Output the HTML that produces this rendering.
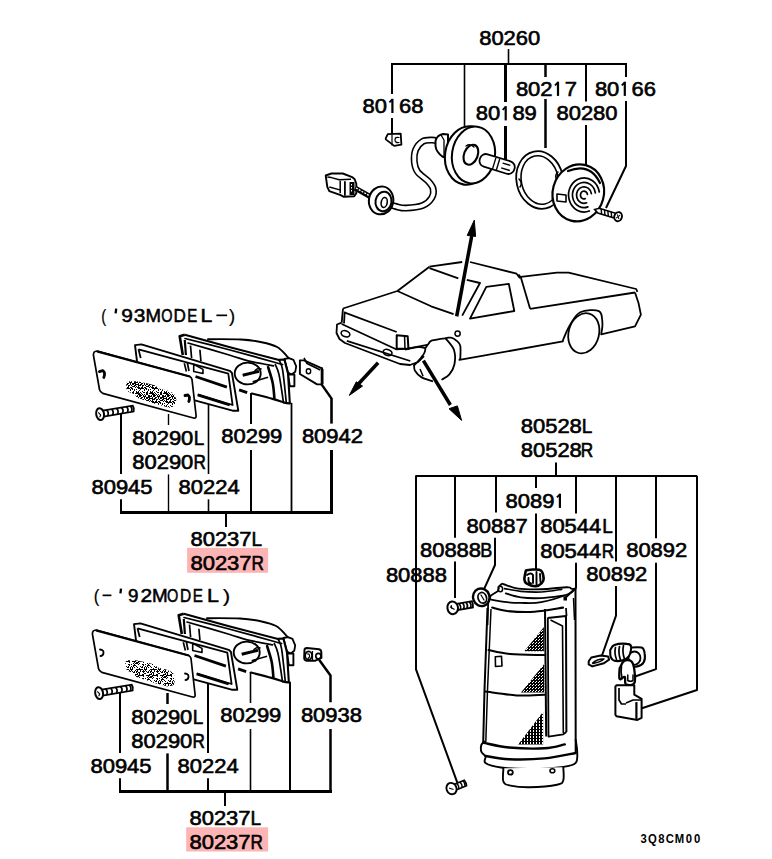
<!DOCTYPE html>
<html><head><meta charset="utf-8"><style>html,body{margin:0;padding:0;background:#fff;width:772px;height:859px;overflow:hidden}svg{display:block}</style></head>
<body>
<svg width="772" height="859" viewBox="0 0 772 859">
<defs>
<pattern id="tex" width="14" height="14" patternUnits="userSpaceOnUse"><rect width="14" height="14" fill="#fff"/><g fill="#000"><rect x="0" y="0" width="1" height="1"/><rect x="3" y="0" width="1" height="1"/><rect x="4" y="0" width="1" height="1"/><rect x="6" y="0" width="1" height="1"/><rect x="7" y="0" width="1" height="1"/><rect x="10" y="0" width="1" height="1"/><rect x="11" y="0" width="1" height="1"/><rect x="12" y="0" width="1" height="1"/><rect x="1" y="1" width="1" height="1"/><rect x="6" y="1" width="1" height="1"/><rect x="7" y="1" width="1" height="1"/><rect x="9" y="1" width="1" height="1"/><rect x="10" y="1" width="1" height="1"/><rect x="11" y="1" width="1" height="1"/><rect x="12" y="1" width="1" height="1"/><rect x="13" y="1" width="1" height="1"/><rect x="0" y="2" width="1" height="1"/><rect x="2" y="2" width="1" height="1"/><rect x="4" y="2" width="1" height="1"/><rect x="6" y="2" width="1" height="1"/><rect x="7" y="2" width="1" height="1"/><rect x="12" y="2" width="1" height="1"/><rect x="13" y="2" width="1" height="1"/><rect x="0" y="3" width="1" height="1"/><rect x="1" y="3" width="1" height="1"/><rect x="3" y="3" width="1" height="1"/><rect x="5" y="3" width="1" height="1"/><rect x="8" y="3" width="1" height="1"/><rect x="9" y="3" width="1" height="1"/><rect x="11" y="3" width="1" height="1"/><rect x="13" y="3" width="1" height="1"/><rect x="0" y="4" width="1" height="1"/><rect x="3" y="4" width="1" height="1"/><rect x="4" y="4" width="1" height="1"/><rect x="5" y="4" width="1" height="1"/><rect x="8" y="4" width="1" height="1"/><rect x="9" y="4" width="1" height="1"/><rect x="10" y="4" width="1" height="1"/><rect x="11" y="4" width="1" height="1"/><rect x="13" y="4" width="1" height="1"/><rect x="1" y="5" width="1" height="1"/><rect x="2" y="5" width="1" height="1"/><rect x="4" y="5" width="1" height="1"/><rect x="6" y="5" width="1" height="1"/><rect x="7" y="5" width="1" height="1"/><rect x="8" y="5" width="1" height="1"/><rect x="9" y="5" width="1" height="1"/><rect x="12" y="5" width="1" height="1"/><rect x="0" y="6" width="1" height="1"/><rect x="1" y="6" width="1" height="1"/><rect x="4" y="6" width="1" height="1"/><rect x="6" y="6" width="1" height="1"/><rect x="7" y="6" width="1" height="1"/><rect x="9" y="6" width="1" height="1"/><rect x="10" y="6" width="1" height="1"/><rect x="11" y="6" width="1" height="1"/><rect x="12" y="6" width="1" height="1"/><rect x="0" y="7" width="1" height="1"/><rect x="2" y="7" width="1" height="1"/><rect x="3" y="7" width="1" height="1"/><rect x="5" y="7" width="1" height="1"/><rect x="8" y="7" width="1" height="1"/><rect x="9" y="7" width="1" height="1"/><rect x="12" y="7" width="1" height="1"/><rect x="13" y="7" width="1" height="1"/><rect x="2" y="8" width="1" height="1"/><rect x="6" y="8" width="1" height="1"/><rect x="7" y="8" width="1" height="1"/><rect x="8" y="8" width="1" height="1"/><rect x="10" y="8" width="1" height="1"/><rect x="12" y="8" width="1" height="1"/><rect x="1" y="9" width="1" height="1"/><rect x="2" y="9" width="1" height="1"/><rect x="4" y="9" width="1" height="1"/><rect x="5" y="9" width="1" height="1"/><rect x="9" y="9" width="1" height="1"/><rect x="11" y="9" width="1" height="1"/><rect x="12" y="9" width="1" height="1"/><rect x="13" y="9" width="1" height="1"/><rect x="0" y="10" width="1" height="1"/><rect x="1" y="10" width="1" height="1"/><rect x="2" y="10" width="1" height="1"/><rect x="3" y="10" width="1" height="1"/><rect x="5" y="10" width="1" height="1"/><rect x="6" y="10" width="1" height="1"/><rect x="12" y="10" width="1" height="1"/><rect x="13" y="10" width="1" height="1"/><rect x="0" y="11" width="1" height="1"/><rect x="4" y="11" width="1" height="1"/><rect x="6" y="11" width="1" height="1"/><rect x="8" y="11" width="1" height="1"/><rect x="10" y="11" width="1" height="1"/><rect x="4" y="12" width="1" height="1"/><rect x="8" y="12" width="1" height="1"/><rect x="13" y="12" width="1" height="1"/><rect x="2" y="13" width="1" height="1"/><rect x="7" y="13" width="1" height="1"/><rect x="10" y="13" width="1" height="1"/><rect x="12" y="13" width="1" height="1"/></g></pattern>
<pattern id="tex2" width="14" height="14" patternUnits="userSpaceOnUse"><rect width="14" height="14" fill="#fff"/><g fill="#000"><rect x="3" y="0" width="1" height="1"/><rect x="7" y="0" width="1" height="1"/><rect x="8" y="0" width="1" height="1"/><rect x="10" y="0" width="1" height="1"/><rect x="12" y="0" width="1" height="1"/><rect x="13" y="0" width="1" height="1"/><rect x="4" y="1" width="1" height="1"/><rect x="5" y="1" width="1" height="1"/><rect x="11" y="1" width="1" height="1"/><rect x="13" y="1" width="1" height="1"/><rect x="2" y="2" width="1" height="1"/><rect x="3" y="2" width="1" height="1"/><rect x="9" y="2" width="1" height="1"/><rect x="10" y="2" width="1" height="1"/><rect x="11" y="2" width="1" height="1"/><rect x="13" y="2" width="1" height="1"/><rect x="0" y="3" width="1" height="1"/><rect x="1" y="3" width="1" height="1"/><rect x="2" y="3" width="1" height="1"/><rect x="3" y="3" width="1" height="1"/><rect x="6" y="3" width="1" height="1"/><rect x="7" y="3" width="1" height="1"/><rect x="8" y="3" width="1" height="1"/><rect x="9" y="3" width="1" height="1"/><rect x="12" y="3" width="1" height="1"/><rect x="13" y="3" width="1" height="1"/><rect x="3" y="4" width="1" height="1"/><rect x="8" y="4" width="1" height="1"/><rect x="10" y="4" width="1" height="1"/><rect x="11" y="4" width="1" height="1"/><rect x="12" y="4" width="1" height="1"/><rect x="7" y="5" width="1" height="1"/><rect x="9" y="5" width="1" height="1"/><rect x="10" y="5" width="1" height="1"/><rect x="11" y="5" width="1" height="1"/><rect x="13" y="5" width="1" height="1"/><rect x="2" y="6" width="1" height="1"/><rect x="3" y="6" width="1" height="1"/><rect x="5" y="6" width="1" height="1"/><rect x="8" y="6" width="1" height="1"/><rect x="12" y="6" width="1" height="1"/><rect x="3" y="7" width="1" height="1"/><rect x="7" y="7" width="1" height="1"/><rect x="8" y="7" width="1" height="1"/><rect x="9" y="7" width="1" height="1"/><rect x="0" y="8" width="1" height="1"/><rect x="2" y="8" width="1" height="1"/><rect x="5" y="8" width="1" height="1"/><rect x="7" y="8" width="1" height="1"/><rect x="10" y="8" width="1" height="1"/><rect x="1" y="9" width="1" height="1"/><rect x="2" y="9" width="1" height="1"/><rect x="4" y="9" width="1" height="1"/><rect x="6" y="9" width="1" height="1"/><rect x="8" y="9" width="1" height="1"/><rect x="11" y="9" width="1" height="1"/><rect x="4" y="10" width="1" height="1"/><rect x="6" y="10" width="1" height="1"/><rect x="13" y="10" width="1" height="1"/><rect x="0" y="11" width="1" height="1"/><rect x="1" y="11" width="1" height="1"/><rect x="2" y="11" width="1" height="1"/><rect x="4" y="11" width="1" height="1"/><rect x="5" y="11" width="1" height="1"/><rect x="6" y="11" width="1" height="1"/><rect x="10" y="11" width="1" height="1"/><rect x="11" y="11" width="1" height="1"/><rect x="12" y="11" width="1" height="1"/><rect x="13" y="11" width="1" height="1"/><rect x="0" y="12" width="1" height="1"/><rect x="3" y="12" width="1" height="1"/><rect x="5" y="12" width="1" height="1"/><rect x="9" y="12" width="1" height="1"/><rect x="11" y="12" width="1" height="1"/><rect x="0" y="13" width="1" height="1"/><rect x="2" y="13" width="1" height="1"/><rect x="3" y="13" width="1" height="1"/><rect x="4" y="13" width="1" height="1"/><rect x="6" y="13" width="1" height="1"/><rect x="8" y="13" width="1" height="1"/><rect x="10" y="13" width="1" height="1"/><rect x="11" y="13" width="1" height="1"/></g></pattern>
<pattern id="hat" width="3" height="3" patternUnits="userSpaceOnUse"><rect width="3" height="3" fill="#000"/><rect x="1" y="1" width="1" height="1" fill="#fff"/><rect x="2" y="0" width="1" height="1" fill="#fff"/></pattern><pattern id="hat2" width="3" height="3" patternUnits="userSpaceOnUse"><rect width="3" height="3" fill="#fff"/><rect width="2" height="3" fill="#000"/><rect x="0" y="0" width="3" height="1" fill="#000"/></pattern>
</defs>
<rect x="187.1" y="547.9" width="81" height="24.9" fill="#fdb4b4"/>
<rect x="186.2" y="827.3" width="81.9" height="24.2" fill="#fdb4b4"/>
<g fill="none" stroke="#000" stroke-linecap="butt" stroke-linejoin="round">
<path d="M391,64 L627,64" stroke-width="2"/>
<path d="M508.5,49 L508.5,64" stroke-width="1.6"/>
<path d="M392,64 L392,94" stroke-width="2"/>
<path d="M392,118 L392,135" stroke-width="2"/>
<path d="M464.5,64 L464.5,128" stroke-width="1.6"/>
<path d="M505.5,64 L505.5,102" stroke-width="3"/>
<path d="M505.5,126 L505.5,160" stroke-width="3"/>
<path d="M545.5,64 L545.5,77" stroke-width="2.5"/>
<path d="M545.5,99 L545.5,148" stroke-width="2.5"/>
<path d="M586,64 L586,101.5" stroke-width="2"/>
<path d="M586,125 L586,165" stroke-width="2"/>
<path d="M626,63 L626,77" stroke-width="2"/>
<path d="M626,101 L626,166 L606,208" stroke-width="2"/>
<path d="M121,413 L121,474" stroke-width="2"/>
<path d="M121,499.3 L121,512.5" stroke-width="2"/>
<path d="M168.5,414 L168.5,425" stroke-width="1.4"/>
<path d="M168.5,474.4 L168.5,512.5" stroke-width="1.4"/>
<path d="M208.5,400 L208.5,474" stroke-width="1.6"/>
<path d="M208.5,499.3 L208.5,512.5" stroke-width="1.6"/>
<path d="M251,385 L251,424" stroke-width="2"/>
<path d="M251,450 L251,512.5" stroke-width="2"/>
<path d="M291.5,402.8 L291.5,512.5" stroke-width="1.8"/>
<path d="M331.5,450 L331.5,512.5" stroke-width="3"/>
<path d="M120,512.5 L333,512.5" stroke-width="3"/>
<path d="M226,512.5 L226,527" stroke-width="2"/>
<path d="M120,692 L120,753" stroke-width="2"/>
<path d="M120,778.3 L120,791.5" stroke-width="2"/>
<path d="M167.5,693 L167.5,704" stroke-width="2.5"/>
<path d="M167.5,753.4 L167.5,791.5" stroke-width="2.5"/>
<path d="M208,679 L208,753" stroke-width="2"/>
<path d="M208,778.3 L208,791.5" stroke-width="2"/>
<path d="M250.5,664 L250.5,703" stroke-width="1.6"/>
<path d="M250.5,729 L250.5,791.5" stroke-width="1.6"/>
<path d="M290,681.8 L290,791.5" stroke-width="2"/>
<path d="M330.5,729 L330.5,791.5" stroke-width="2.5"/>
<path d="M119,791.5 L332,791.5" stroke-width="3"/>
<path d="M225,791.5 L225,806" stroke-width="2"/>
<path d="M321.3,384 L331.5,398.5" stroke-width="2.3"/>
<path d="M331.5,398 L331.5,423.6" stroke-width="2.6"/>
<path d="M319.1,659.8 L330.5,675.6 L330.5,702.2" stroke-width="2.5"/>
<path d="M556,462.5 L556,476" stroke-width="2"/>
<path d="M415.3,476 L697.3,476" stroke-width="2"/>
<path d="M416,476 L416,669.4 L457.3,782.6" stroke-width="2"/>
<path d="M455,476 L455,537.8" stroke-width="2"/>
<path d="M455,561.6 L455,598" stroke-width="2"/>
<path d="M496,476 L496,512.6" stroke-width="2"/>
<path d="M495,537.8 L495,565 L483.5,590.3" stroke-width="2"/>
<path d="M536,476 L536,488" stroke-width="2"/>
<path d="M536,513.6 L536,572" stroke-width="2"/>
<path d="M576,476 L576,513.6" stroke-width="2"/>
<path d="M576,562.8 L576,587.8 L564.3,598.7" stroke-width="2"/>
<path d="M616,476 L616,561.6" stroke-width="2"/>
<path d="M616,586 L616,615.7 L602,655.5" stroke-width="2"/>
<path d="M656,476 L656,538.2" stroke-width="2"/>
<path d="M656,562.8 L656,669.1 L635.1,676.5" stroke-width="2"/>
<path d="M697,476 L697,690 L641.9,708.3" stroke-width="2"/>
</g>
<polygon points="325.7,175.5 331.4,173.5 342.8,173.5 352.1,177.1 354.7,179.2 356.3,183.8 356.3,193.2 354.2,196.3 343.8,196.8 340.7,195.2 329.3,191.1 327.3,186.9" fill="#fff" stroke="#000" stroke-width="1.9" stroke-linejoin="round" />
<polyline points="327.3,177.0 331.4,177.6 339.2,179.7 351.0,179.2" fill="none" stroke="#000" stroke-width="1.5" stroke-linejoin="round" />
<polyline points="340.2,180.7 340.2,193.2" fill="none" stroke="#000" stroke-width="1.5" stroke-linejoin="round" />
<polyline points="344.9,181.2 344.9,195.8" fill="none" stroke="#000" stroke-width="1.8" stroke-linejoin="round" />
<polyline points="329.3,187.0 340.7,190.1" fill="none" stroke="#000" stroke-width="1.5" stroke-linejoin="round" />
<polyline points="355.0,188.0 370.0,196.5" fill="none" stroke="#000" stroke-width="5" stroke-linejoin="round" />
<path d="M356,188 L369,195.5" stroke="#fff" stroke-width="1.3" stroke-dasharray="2,1.2"/>
<rect x="349.5" y="182" width="5" height="13" fill="#000"/>
<path d="M351.5,184 L351.5,193" stroke="#fff" stroke-width="1" stroke-dasharray="1.5,1.5"/>
<path d="M386.0,203.0 C387.7,203.6 392.7,205.7 396.0,206.5 C399.3,207.3 401.4,208.3 405.9,208.1 C410.3,207.9 418.4,207.2 422.7,205.5 C427.0,203.8 430.1,200.5 431.8,197.7 C433.5,194.9 433.8,191.5 433.1,188.7 C432.5,185.9 430.5,183.7 427.9,180.9 C425.3,178.1 419.9,175.0 417.6,171.8 C415.3,168.6 414.6,165.2 414.3,161.5 C414.0,157.8 414.2,153.2 415.6,149.8 C417.0,146.5 420.0,143.0 422.7,141.4 C425.4,139.8 429.2,140.2 431.8,140.1 C434.4,140.0 437.0,140.8 438.0,141.0" fill="none" stroke="#000" stroke-width="7" stroke-linejoin="round" stroke-linecap="round" />
<path d="M386.0,203.0 C387.7,203.6 392.7,205.7 396.0,206.5 C399.3,207.3 401.4,208.3 405.9,208.1 C410.3,207.9 418.4,207.2 422.7,205.5 C427.0,203.8 430.1,200.5 431.8,197.7 C433.5,194.9 433.8,191.5 433.1,188.7 C432.5,185.9 430.5,183.7 427.9,180.9 C425.3,178.1 419.9,175.0 417.6,171.8 C415.3,168.6 414.6,165.2 414.3,161.5 C414.0,157.8 414.2,153.2 415.6,149.8 C417.0,146.5 420.0,143.0 422.7,141.4 C425.4,139.8 429.2,140.2 431.8,140.1 C434.4,140.0 437.0,140.8 438.0,141.0" fill="none" stroke="#fff" stroke-width="3.8" stroke-linecap="round"/>
<ellipse cx="0" cy="0" rx="12.2" ry="14" transform="translate(381.1,200.4) rotate(10)" fill="#fff" stroke="#000" stroke-width="2" />
<ellipse cx="0" cy="0" rx="8" ry="9.8" transform="translate(383.5,201.5) rotate(10)" fill="#fff" stroke="#000" stroke-width="2" />
<ellipse cx="0" cy="0" rx="3" ry="5" transform="translate(384.2,202.5) rotate(10)" fill="#fff" stroke="#000" stroke-width="1.6" />
<polygon points="385.8,138.1 387.8,134.2 400.7,133.6 401.4,144.6 394.2,145.9 385.8,139.4" fill="#fff" stroke="#000" stroke-width="1.8" stroke-linejoin="round" />
<polyline points="392.0,134.5 392.0,145.5" fill="none" stroke="#000" stroke-width="1.2" stroke-linejoin="round" />
<path d="M399,137.5 Q395,136.5 395,140 Q395,143 399,142.5" fill="none" stroke="#000" stroke-width="1.2" stroke-linejoin="round" stroke-linecap="round" />
<path d="M435.5,141 Q437,135 443,134 L448,134.5 L448,157 L443,157 Q436,152 435.5,146 Z" fill="#fff" stroke="#000" stroke-width="2" stroke-linejoin="round" stroke-linecap="round" />
<polyline points="441.0,135.0 444.0,140.0 444.0,156.0" fill="none" stroke="#000" stroke-width="1.3" stroke-linejoin="round" />
<ellipse cx="0" cy="0" rx="23" ry="29.4" transform="translate(468,155.5) rotate(8)" fill="#fff" stroke="#000" stroke-width="2.1" />
<ellipse cx="0" cy="0" rx="21.5" ry="28.5" transform="translate(473.5,155) rotate(8)" fill="#fff" stroke="#000" stroke-width="2" />
<ellipse cx="0" cy="0" rx="6.8" ry="10.4" transform="translate(470.9,154.7) rotate(22)" fill="#fff" stroke="#000" stroke-width="2.1" />
<path d="M466,146 Q470,143 474,147" fill="none" stroke="#000" stroke-width="1.3" stroke-linejoin="round" stroke-linecap="round" />
<g transform="translate(497,164.5) rotate(17)"><rect x="-18" y="-7" width="36" height="13" rx="6" fill="#fff" stroke="#000" stroke-width="1.8"/><path d="M-3,-6 L-3,6 M1,-6 L1,6 M5,-3 L13,-3 M5,2 L14,2" stroke="#000" stroke-width="1.4" fill="none"/></g>
<ellipse cx="0" cy="0" rx="23.3" ry="29.1" transform="translate(539.8,180) rotate(-12)" fill="#fff" stroke="#000" stroke-width="1.8" />
<ellipse cx="0" cy="0" rx="18.5" ry="24.5" transform="translate(539.8,180) rotate(-12)" fill="#fff" stroke="#000" stroke-width="1.6" />
<path d="M519,179 Q523,183 520,187" fill="none" stroke="#000" stroke-width="1.5" stroke-linejoin="round" stroke-linecap="round" />
<path d="M558,172 Q554,176 557,180" fill="none" stroke="#000" stroke-width="1.5" stroke-linejoin="round" stroke-linecap="round" />
<ellipse cx="0" cy="0" rx="25.6" ry="28.7" transform="translate(578.3,192.9) rotate(15)" fill="#fff" stroke="#000" stroke-width="2.2" />
<path d="M568,171 Q590,162 600,183" fill="none" stroke="#000" stroke-width="2.2" stroke-linejoin="round" stroke-linecap="round" />
<path d="M585.2,198.6 A3.5,3.8500000000000005 0 1 1 587.4,194.3" fill="none" stroke="#000" stroke-width="1.7" stroke-linejoin="round" stroke-linecap="round" />
<path d="M586.6,202.8 A7.5,8.25 0 1 1 591.4,193.6" fill="none" stroke="#000" stroke-width="1.7" stroke-linejoin="round" stroke-linecap="round" />
<path d="M587.9,206.9 A11.5,12.65 0 1 1 595.3,192.8" fill="none" stroke="#000" stroke-width="1.7" stroke-linejoin="round" stroke-linecap="round" />
<path d="M589.3,211.0 A15.5,17.05 0 1 1 599.3,192.0" fill="none" stroke="#000" stroke-width="1.7" stroke-linejoin="round" stroke-linecap="round" />
<polygon points="557.0,194.0 566.0,195.0 566.0,202.0 557.0,201.0" fill="#fff" stroke="#000" stroke-width="1.6" stroke-linejoin="round" />
<g transform="translate(594.7,209.5) rotate(17)"><path d="M0,0 L4,-2.5 L21,-2.5 L21,2.5 L4,2.5 Z" fill="#fff" stroke="#000" stroke-width="1.7"/><path d="M6,-2.5 L8,2.5 M9.5,-2.5 L11.5,2.5 M13,-2.5 L15,2.5 M16.5,-2.5 L18.5,2.5" stroke="#000" stroke-width="1.4"/><ellipse cx="24.5" cy="0" rx="3.8" ry="4.6" fill="#fff" stroke="#000" stroke-width="1.9"/><path d="M23,-2 L26,2 M26,-2 L23,2" stroke="#000" stroke-width="1"/></g>
<polyline points="429.5,266.7 462.2,262.0" fill="none" stroke="#000" stroke-width="1.8" stroke-linejoin="round" />
<polyline points="470.0,262.0 516.6,273.7 520.0,278.3" fill="none" stroke="#000" stroke-width="1.8" stroke-linejoin="round" />
<polyline points="343.0,308.5 397.4,291.0 429.5,266.7" fill="none" stroke="#000" stroke-width="1.8" stroke-linejoin="round" />
<polyline points="397.4,291.0 431.1,306.3 453.6,314.1" fill="none" stroke="#000" stroke-width="1.8" stroke-linejoin="round" />
<polyline points="429.5,268.2 458.3,278.3" fill="none" stroke="#000" stroke-width="1.8" stroke-linejoin="round" />
<polyline points="466.8,279.9 480.0,283.0 462.2,315.6" fill="none" stroke="#000" stroke-width="1.8" stroke-linejoin="round" />
<polygon points="486.3,286.9 508.8,283.8 514.3,311.0 470.0,318.7" fill="none" stroke="#000" stroke-width="1.8" stroke-linejoin="round" />
<ellipse cx="0" cy="0" rx="2.6" ry="2.6" transform="translate(457.6,333.6) rotate(0)" fill="none" stroke="#000" stroke-width="1.5" />
<polyline points="343.0,308.5 341.7,322.7" fill="none" stroke="#000" stroke-width="1.8" stroke-linejoin="round" />
<polyline points="344.7,311.8 344.0,323.5" fill="none" stroke="#000" stroke-width="1.8" stroke-linejoin="round" />
<polyline points="344.2,312.4 396.7,332.0" fill="none" stroke="#000" stroke-width="1.8" stroke-linejoin="round" />
<polygon points="396.7,335.2 407.7,336.2 408.4,348.7 396.7,348.7" fill="#fff" stroke="#000" stroke-width="2" stroke-linejoin="round" />
<polyline points="404.5,335.2 405.0,348.7" fill="none" stroke="#000" stroke-width="1.5" stroke-linejoin="round" />
<polyline points="341.7,322.7 337.0,324.5 336.5,333.0 339.5,339.0 345.0,343.0 400.0,364.0 410.0,365.0 418.0,362.0 424.0,356.0" fill="none" stroke="#000" stroke-width="1.8" stroke-linejoin="round" />
<polyline points="341.7,324.0 396.1,349.3 407.7,348.7 420.7,346.1 427.2,344.8" fill="none" stroke="#000" stroke-width="1.8" stroke-linejoin="round" />
<polyline points="346.8,340.9 410.3,361.0" fill="none" stroke="#000" stroke-width="1.8" stroke-linejoin="round" />
<ellipse cx="0" cy="0" rx="4.5" ry="3" transform="translate(345.5,333.8) rotate(20)" fill="none" stroke="#000" stroke-width="1.6" />
<ellipse cx="0" cy="0" rx="4.5" ry="3" transform="translate(387.6,352.5) rotate(20)" fill="none" stroke="#000" stroke-width="1.6" />
<polyline points="405.0,349.5 414.1,347.7 419.5,346.8 425.4,348.1" fill="none" stroke="#000" stroke-width="1.8" stroke-linejoin="round" />
<path d="M425.4,348.1 C425.9,347.4 427.5,344.9 428.6,343.6 C429.7,342.3 429.3,341.3 432.2,340.4 C435.1,339.5 442.6,338.6 445.8,338.2 C449.0,337.8 449.4,337.2 451.2,337.7 C453.0,338.1 455.2,339.5 456.7,340.9 C458.2,342.3 459.7,342.9 460.3,345.9 C460.9,348.9 460.3,356.8 460.3,359.0" fill="none" stroke="#000" stroke-width="1.8" stroke-linejoin="round" stroke-linecap="round" />
<polyline points="460.3,359.0 459.4,359.9 475.0,357.2 562.8,341.4" fill="none" stroke="#000" stroke-width="1.8" stroke-linejoin="round" />
<path d="M425.4,349.0 C425.2,349.8 425.3,351.5 424.0,353.6 C422.7,355.7 419.3,359.7 417.7,361.7 C416.1,363.7 414.7,364.8 414.1,365.4" fill="none" stroke="#000" stroke-width="1.8" stroke-linejoin="round" stroke-linecap="round" />
<path d="M414.1,365.4 C414.2,366.3 413.8,368.9 415.0,370.8 C416.2,372.8 418.4,375.4 421.3,377.1 C424.2,378.8 430.4,380.5 432.2,381.2" fill="none" stroke="#000" stroke-width="1.8" stroke-linejoin="round" stroke-linecap="round" />
<path d="M445.8,338.6 C447.2,340.5 452.6,345.7 454.0,350.0 C455.4,354.3 455.2,360.4 454.4,364.5 C453.6,368.6 451.4,371.9 449.4,374.4 C447.4,376.9 443.4,378.6 442.2,379.4" fill="none" stroke="#000" stroke-width="1.8" stroke-linejoin="round" stroke-linecap="round" />
<polyline points="420.0,369.0 423.1,376.2" fill="none" stroke="#000" stroke-width="1.5" stroke-linejoin="round" />
<polyline points="518.5,274.5 520.8,277.3 530.1,308.8" fill="none" stroke="#000" stroke-width="1.8" stroke-linejoin="round" />
<polyline points="520.8,276.8 556.9,272.6 568.6,272.6 636.2,289.0 637.4,291.8" fill="none" stroke="#000" stroke-width="1.8" stroke-linejoin="round" />
<polyline points="530.1,308.8 635.0,292.5" fill="none" stroke="#000" stroke-width="1.8" stroke-linejoin="round" />
<polyline points="635.0,292.5 638.5,303.0 640.9,314.6 635.0,326.3 601.2,334.4" fill="none" stroke="#000" stroke-width="1.8" stroke-linejoin="round" />
<path d="M601.2,334.4 C601.4,332.5 602.8,326.7 602.4,322.8 C602.0,318.9 602.6,312.9 598.9,311.1 C595.2,309.4 585.1,310.0 580.3,312.3 C575.5,314.6 572.7,320.7 570.0,325.0 C567.3,329.3 565.1,335.2 563.9,337.9 C562.7,340.6 563.0,340.8 562.8,341.4" fill="none" stroke="#000" stroke-width="1.8" stroke-linejoin="round" stroke-linecap="round" />
<ellipse cx="0" cy="0" rx="15.2" ry="20.4" transform="translate(583.8,333.3) rotate(15)" fill="#fff" stroke="#000" stroke-width="1.8" />
<line x1="456.7" y1="316.4" x2="471.7" y2="236" stroke="#000" stroke-width="3.5"/>
<polygon points="474.3,220.2 467.2,235.4 475.6,236.4" fill="#000" stroke="#000" stroke-width="1"/>
<line x1="378.1" y1="362.8" x2="358.6" y2="383.7" stroke="#000" stroke-width="3.5"/>
<polygon points="349.3,395.4 356.3,381.8 362.5,386.1" fill="#000" stroke="#000" stroke-width="1"/>
<line x1="423.4" y1="360.7" x2="450.4" y2="405" stroke="#000" stroke-width="3.5"/>
<polygon points="461.6,420.4 449.0,408.7 457.4,405.9" fill="#000" stroke="#000" stroke-width="1"/>
<path d="M208.0,339.2 C213.5,339.2 232.0,339.0 240.9,339.5 C249.8,340.0 255.7,340.9 261.7,342.2 C267.7,343.4 273.0,344.8 277.1,347.0 C281.2,349.2 284.1,353.2 286.2,355.4 C288.3,357.6 289.4,359.2 290.0,360.0" fill="#fff" stroke="#000" stroke-width="1.9" stroke-linejoin="round" stroke-linecap="round" />
<polygon points="284.4,359.0 288.9,358.1 293.5,359.9 296.2,366.3 295.3,371.7 291.6,374.5 288.0,372.6" fill="#fff" stroke="#000" stroke-width="1.8" stroke-linejoin="round" />
<polygon points="288.0,374.5 294.4,374.5 294.4,386.2 289.8,386.2" fill="#fff" stroke="#000" stroke-width="1.9" stroke-linejoin="round" />
<polygon points="179.7,336.2 184.8,334.7 284.4,359.5 288.0,373.5 289.8,402.6 289.8,403.5 251.8,393.5 186.0,372.0" fill="#fff" stroke="none"/>
<polyline points="184.8,334.7 230.0,347.3 279.0,359.9 284.4,359.5 288.0,373.5 289.8,402.6 289.8,403.5" fill="none" stroke="#000" stroke-width="2.1" stroke-linejoin="round" />
<path d="M185.0,338.5 C192.5,340.4 218.3,346.9 230.0,350.0 C241.7,353.1 247.8,354.8 255.4,356.9 C262.9,359.0 270.8,361.2 275.3,362.5 C279.8,363.8 281.4,364.2 282.6,364.5" fill="none" stroke="#000" stroke-width="1.7" stroke-linejoin="round" stroke-linecap="round" />
<path d="M188.0,343.0 C195.0,345.0 220.0,352.2 230.0,355.2 C240.0,358.2 240.8,359.0 248.1,360.8 C255.3,362.6 269.3,365.0 273.5,365.8" fill="none" stroke="#000" stroke-width="1.7" stroke-linejoin="round" stroke-linecap="round" />
<path d="M279.0,359.9 C279.6,361.6 281.4,362.9 282.6,369.9 C283.8,376.8 285.6,396.3 286.2,401.6" fill="none" stroke="#000" stroke-width="1.7" stroke-linejoin="round" stroke-linecap="round" />
<path d="M275.3,364.5 C275.9,366.2 277.6,368.1 279.0,374.5 C280.4,380.9 282.8,397.9 283.5,402.6" fill="none" stroke="#000" stroke-width="1.7" stroke-linejoin="round" stroke-linecap="round" />
<path d="M268.1,367.2 C268.9,369.8 271.6,377.5 272.6,382.6 C273.7,387.7 274.1,395.4 274.4,398.0" fill="none" stroke="#000" stroke-width="2.6" stroke-linejoin="round" stroke-linecap="round" />
<path d="M251.8,393.5 C255.3,394.4 267.2,397.4 272.6,398.9 C278.0,400.4 281.5,401.8 284.4,402.6 C287.3,403.4 288.9,403.4 289.8,403.5" fill="none" stroke="#000" stroke-width="2.2" stroke-linejoin="round" stroke-linecap="round" />
<polyline points="184.8,334.7 179.7,336.2 182.8,355.0" fill="none" stroke="#000" stroke-width="2.6" stroke-linejoin="round" />
<polyline points="184.8,340.0 185.9,355.0" fill="none" stroke="#000" stroke-width="2.2" stroke-linejoin="round" />
<polyline points="190.5,345.5 191.6,358.0" fill="none" stroke="#000" stroke-width="1.7" stroke-linejoin="round" />
<polyline points="199.9,349.7 200.9,361.0" fill="none" stroke="#000" stroke-width="1.7" stroke-linejoin="round" />
<ellipse cx="0" cy="0" rx="13" ry="10.9" transform="translate(247.7,373.5) rotate(0)" fill="#fff" stroke="#000" stroke-width="1.9" />
<polyline points="242.7,375.2 259.0,371.3" fill="none" stroke="#000" stroke-width="3" stroke-linejoin="round" />
<path d="M255,370.5 Q258,367.5 261,369" fill="none" stroke="#000" stroke-width="1.5" stroke-linejoin="round" stroke-linecap="round" />
<polyline points="252.7,381.7 268.1,377.2" fill="none" stroke="#000" stroke-width="1.6" stroke-linejoin="round" />
<polyline points="239.1,389.9 247.2,392.6" fill="none" stroke="#000" stroke-width="2.8" stroke-linejoin="round" />
<polygon points="135.0,345.1 141.4,344.4 229.7,370.8 231.9,372.9 238.3,410.7 232.6,410.7 198.4,401.4 140.0,385.0 136.4,356.5" fill="#fff" stroke="#000" stroke-width="1.9" stroke-linejoin="round" />
<polyline points="138.5,349.4 228.3,373.6 232.6,405.0 197.7,394.3" fill="none" stroke="#000" stroke-width="1.8" stroke-linejoin="round" />
<polyline points="138.5,349.4 140.7,358.0" fill="none" stroke="#000" stroke-width="1.8" stroke-linejoin="round" />
<polyline points="184.3,363.2 186.4,371.5" fill="none" stroke="#000" stroke-width="1.7" stroke-linejoin="round" />
<polyline points="187.3,362.5 189.0,371.0" fill="none" stroke="#000" stroke-width="1.7" stroke-linejoin="round" />
<polygon points="193.7,364.2 203.0,369.4 203.0,373.5 193.7,371.5" fill="none" stroke="#000" stroke-width="1.6" stroke-linejoin="round" />
<polyline points="195.5,376.5 226.9,387.2" fill="none" stroke="#000" stroke-width="2.8" stroke-linejoin="round" />
<polyline points="197.7,395.0 229.7,405.0" fill="none" stroke="#000" stroke-width="2.8" stroke-linejoin="round" />
<path d="M93.4,355 Q93.4,351.2 97,351 L189.8,376.5 Q191.5,377.5 192,379.5 L196.1,415.5 Q196.5,418.6 193.5,418 L102.8,393.4 Q99.9,391.5 99.5,389.5 Z" fill="#fff" stroke="#000" stroke-width="1.7" stroke-linejoin="round" stroke-linecap="round" />
<polyline points="97.0,351.3 189.8,376.5" fill="none" stroke="#000" stroke-width="2.3" stroke-linejoin="round" />
<path d="M99.4,371.6 L102.8,370.6 Q105.8,372.5 103.8,377.5" fill="none" stroke="#000" stroke-width="2.8" stroke-linejoin="round" stroke-linecap="round" />
<path d="M185,395.5 L188,395 Q190.5,397 188.8,401.5" fill="none" stroke="#000" stroke-width="2.8" stroke-linejoin="round" stroke-linecap="round" />
<polygon points="126.3,383.0 128.4,381.3 136.8,381.3 147.8,383.4 155.4,385.5 158.7,388.5 167.1,390.6 173.9,393.5 176.4,399.4 174.7,406.1 169.7,407.8 155.4,404.0 146.9,401.1 136.8,397.7 135.2,394.4 128.4,391.8 126.3,388.5" fill="url(#tex)" stroke="none"/>
<g transform="translate(100.1,414.1) rotate(-9.5)"><path d="M3,-3 L33.5,-3 Q35,0 33.5,3 L3,3" fill="#fff" stroke="#000" stroke-width="1.8"/><path d="M7,-3 Q9.5,0 7,3 M12,-3 Q14.5,0 12,3 M17,-3 Q19.5,0 17,3 M22,-3 Q24.5,0 22,3 M27,-3 Q29.5,0 27,3 M31,-3 Q33.5,0 31,3" fill="none" stroke="#000" stroke-width="1.7"/><ellipse cx="0" cy="0" rx="3.9" ry="6" fill="#fff" stroke="#000" stroke-width="2"/><path d="M-1.5,-2 L0.5,1 L-1,3" fill="none" stroke="#000" stroke-width="1.1"/></g>
<polygon points="299.9,360.4 304.0,360.4 320.3,367.7 322.1,368.1 322.1,384.4 317.1,384.4 299.9,374.0" fill="#fff" stroke="#000" stroke-width="1.9" stroke-linejoin="round" />
<polyline points="304.0,358.0 307.0,363.5 320.3,370.0" fill="none" stroke="#000" stroke-width="1.6" stroke-linejoin="round" />
<ellipse cx="0" cy="0" rx="2.2" ry="2.5" transform="translate(308.5,371.3) rotate(0)" fill="none" stroke="#000" stroke-width="1.4" />
<polyline points="322.1,369.0 322.1,384.0" fill="none" stroke="#000" stroke-width="2.8" stroke-linejoin="round" />
<path d="M207.0,618.2 C212.5,618.2 231.0,618.0 239.9,618.5 C248.8,619.0 254.7,620.0 260.7,621.2 C266.7,622.5 272.0,623.8 276.1,626.0 C280.2,628.2 283.1,632.2 285.2,634.4 C287.3,636.6 288.4,638.2 289.0,639.0" fill="#fff" stroke="#000" stroke-width="1.9" stroke-linejoin="round" stroke-linecap="round" />
<polygon points="283.4,638.0 287.9,637.1 292.5,638.9 295.2,645.3 294.3,650.7 290.6,653.5 287.0,651.6" fill="#fff" stroke="#000" stroke-width="1.8" stroke-linejoin="round" />
<polygon points="287.0,653.5 293.4,653.5 293.4,665.2 288.8,665.2" fill="#fff" stroke="#000" stroke-width="1.9" stroke-linejoin="round" />
<polygon points="178.7,615.2 183.8,613.7 283.4,638.5 287.0,652.5 288.8,681.6 288.8,682.5 250.8,672.5 185.0,651.0" fill="#fff" stroke="none"/>
<polyline points="183.8,613.7 229.0,626.3 278.0,638.9 283.4,638.5 287.0,652.5 288.8,681.6 288.8,682.5" fill="none" stroke="#000" stroke-width="2.1" stroke-linejoin="round" />
<path d="M184.0,617.5 C191.5,619.4 217.3,625.9 229.0,629.0 C240.7,632.1 246.8,633.8 254.4,635.9 C261.9,638.0 269.8,640.2 274.3,641.5 C278.8,642.8 280.4,643.2 281.6,643.5" fill="none" stroke="#000" stroke-width="1.7" stroke-linejoin="round" stroke-linecap="round" />
<path d="M187.0,622.0 C194.0,624.0 219.0,631.2 229.0,634.2 C239.0,637.2 239.8,638.0 247.1,639.8 C254.3,641.6 268.3,644.0 272.5,644.8" fill="none" stroke="#000" stroke-width="1.7" stroke-linejoin="round" stroke-linecap="round" />
<path d="M278.0,638.9 C278.6,640.6 280.4,641.9 281.6,648.9 C282.8,655.9 284.6,675.3 285.2,680.6" fill="none" stroke="#000" stroke-width="1.7" stroke-linejoin="round" stroke-linecap="round" />
<path d="M274.3,643.5 C274.9,645.2 276.6,647.1 278.0,653.5 C279.4,659.9 281.8,676.9 282.5,681.6" fill="none" stroke="#000" stroke-width="1.7" stroke-linejoin="round" stroke-linecap="round" />
<path d="M267.1,646.2 C267.9,648.8 270.6,656.5 271.6,661.6 C272.7,666.7 273.1,674.4 273.4,677.0" fill="none" stroke="#000" stroke-width="2.6" stroke-linejoin="round" stroke-linecap="round" />
<path d="M250.8,672.5 C254.3,673.4 266.2,676.4 271.6,677.9 C277.0,679.4 280.5,680.8 283.4,681.6 C286.3,682.4 287.9,682.4 288.8,682.5" fill="none" stroke="#000" stroke-width="2.2" stroke-linejoin="round" stroke-linecap="round" />
<polyline points="183.8,613.7 178.7,615.2 181.8,634.0" fill="none" stroke="#000" stroke-width="2.6" stroke-linejoin="round" />
<polyline points="183.8,619.0 184.9,634.0" fill="none" stroke="#000" stroke-width="2.2" stroke-linejoin="round" />
<polyline points="189.5,624.5 190.6,637.0" fill="none" stroke="#000" stroke-width="1.7" stroke-linejoin="round" />
<polyline points="198.9,628.7 199.9,640.0" fill="none" stroke="#000" stroke-width="1.7" stroke-linejoin="round" />
<ellipse cx="0" cy="0" rx="13" ry="10.9" transform="translate(246.7,652.5) rotate(0)" fill="#fff" stroke="#000" stroke-width="1.9" />
<polyline points="241.7,654.2 258.0,650.3" fill="none" stroke="#000" stroke-width="3" stroke-linejoin="round" />
<path d="M254,649.5 Q257,646.5 260,648" fill="none" stroke="#000" stroke-width="1.5" stroke-linejoin="round" stroke-linecap="round" />
<polyline points="251.7,660.7 267.1,656.2" fill="none" stroke="#000" stroke-width="1.6" stroke-linejoin="round" />
<polyline points="238.1,668.9 246.2,671.6" fill="none" stroke="#000" stroke-width="2.8" stroke-linejoin="round" />
<polygon points="134.0,624.1 140.4,623.4 228.7,649.8 230.9,651.9 237.3,689.7 231.6,689.7 197.4,680.4 139.0,664.0 135.4,635.5" fill="#fff" stroke="#000" stroke-width="1.9" stroke-linejoin="round" />
<polyline points="137.5,628.4 227.3,652.6 231.6,684.0 196.7,673.3" fill="none" stroke="#000" stroke-width="1.8" stroke-linejoin="round" />
<polyline points="137.5,628.4 139.7,637.0" fill="none" stroke="#000" stroke-width="1.8" stroke-linejoin="round" />
<polyline points="183.3,642.2 185.4,650.5" fill="none" stroke="#000" stroke-width="1.7" stroke-linejoin="round" />
<polyline points="186.3,641.5 188.0,650.0" fill="none" stroke="#000" stroke-width="1.7" stroke-linejoin="round" />
<polygon points="192.7,643.2 202.0,648.4 202.0,652.5 192.7,650.5" fill="none" stroke="#000" stroke-width="1.6" stroke-linejoin="round" />
<polyline points="194.5,655.5 225.9,666.2" fill="none" stroke="#000" stroke-width="2.8" stroke-linejoin="round" />
<polyline points="196.7,674.0 228.7,684.0" fill="none" stroke="#000" stroke-width="2.8" stroke-linejoin="round" />
<path d="M92.4,634 Q92.4,630.2 96,630 L188.8,655.5 Q190.5,656.5 191,658.5 L195.1,694.5 Q195.5,697.6 192.5,697 L101.8,672.4 Q98.9,670.5 98.5,668.5 Z" fill="#fff" stroke="#000" stroke-width="1.7" stroke-linejoin="round" stroke-linecap="round" />
<polyline points="96.0,630.3 188.8,655.5" fill="none" stroke="#000" stroke-width="2.3" stroke-linejoin="round" />
<path d="M100,649.5 Q104,650 103.5,653 Q103,656 100.5,656" fill="none" stroke="#000" stroke-width="1.8" stroke-linejoin="round" stroke-linecap="round" />
<path d="M185,673.5 Q189,674 188.5,677 Q188,680 185.5,680" fill="none" stroke="#000" stroke-width="1.8" stroke-linejoin="round" stroke-linecap="round" />
<polygon points="125.3,662.0 127.4,660.3 135.8,660.3 146.8,662.4 154.4,664.5 157.7,667.5 166.1,669.6 172.9,672.5 175.4,678.4 173.7,685.1 168.7,686.8 154.4,683.0 145.9,680.1 135.8,676.7 134.2,673.4 127.4,670.8 125.3,667.5" fill="url(#tex2)" stroke="none"/>
<g transform="translate(99.1,693.1) rotate(-9.5)"><path d="M3,-3 L33.5,-3 Q35,0 33.5,3 L3,3" fill="#fff" stroke="#000" stroke-width="1.8"/><path d="M7,-3 Q9.5,0 7,3 M12,-3 Q14.5,0 12,3 M17,-3 Q19.5,0 17,3 M22,-3 Q24.5,0 22,3 M27,-3 Q29.5,0 27,3 M31,-3 Q33.5,0 31,3" fill="none" stroke="#000" stroke-width="1.7"/><ellipse cx="0" cy="0" rx="3.9" ry="6" fill="#fff" stroke="#000" stroke-width="2"/><path d="M-1.5,-2 L0.5,1 L-1,3" fill="none" stroke="#000" stroke-width="1.1"/></g>
<path d="M304.5,650 Q304.5,648 307,648 L319,649.2 Q321.2,649.8 321.3,652 L321.4,657.9 L315.4,660.7 L306.5,660.7 Q304.3,660.5 304.2,658 Z" fill="#fff" stroke="#000" stroke-width="2" stroke-linejoin="round" stroke-linecap="round" />
<ellipse cx="0" cy="0" rx="3.4" ry="4.2" transform="translate(308.6,655.6) rotate(0)" fill="none" stroke="#000" stroke-width="1.7" />
<path d="M307.5,654 Q310,653.5 309.5,657 L308,658.5" fill="none" stroke="#000" stroke-width="1.2" stroke-linejoin="round" stroke-linecap="round" />
<ellipse cx="0" cy="0" rx="2.6" ry="2.7" transform="translate(318.4,656.1) rotate(0)" fill="none" stroke="#000" stroke-width="1.7" />
<polyline points="312.5,651.0 312.5,660.0" fill="none" stroke="#000" stroke-width="1.2" stroke-linejoin="round" />
<g transform="translate(452.7,607.8) rotate(-10)"><path d="M3,-3.2 L20,-3.2 Q21,0 20,3.2 L3,3.2" fill="#fff" stroke="#000" stroke-width="1.8"/><path d="M7,-3.2 Q9,0 7,3.2 M10.5,-3.2 Q12.5,0 10.5,3.2 M14,-3.2 Q16,0 14,3.2 M17.5,-3.2 Q19.5,0 17.5,3.2" fill="none" stroke="#000" stroke-width="1.6"/><ellipse cx="0" cy="0" rx="5.3" ry="6.4" fill="#fff" stroke="#000" stroke-width="2"/><path d="M-2.5,-1.5 L1.5,2 M-1,-3 L-1,1" stroke="#000" stroke-width="1.1"/></g>
<ellipse cx="0" cy="0" rx="8.2" ry="8.9" transform="translate(481.3,597.3) rotate(-20)" fill="#fff" stroke="#000" stroke-width="2.4" />
<ellipse cx="0" cy="0" rx="4.2" ry="5.4" transform="translate(482.3,597.8) rotate(-20)" fill="#fff" stroke="#000" stroke-width="1.8" />
<path d="M481,595 L484,600" fill="none" stroke="#000" stroke-width="1.2" stroke-linejoin="round" stroke-linecap="round" />
<path d="M525.9,570.5 C527.1,570.3 530.5,569.5 533.0,569.5 C535.5,569.5 539.1,569.0 540.9,570.5 C542.7,572.0 543.5,576.6 543.6,578.7 C543.8,580.8 543.1,581.9 541.8,583.1 C540.5,584.4 538.1,586.1 535.6,586.2 C533.1,586.3 528.7,584.7 526.8,583.6 C524.9,582.5 524.5,581.8 524.4,579.6 C524.2,577.4 525.6,572.0 525.9,570.5" fill="#fff" stroke="#000" stroke-width="2.6" stroke-linejoin="round" stroke-linecap="round" />
<path d="M527,575 Q531,572 533,575 L533,583 M528.5,578 Q528,583 531,583.5 M536.5,572 L536.5,585 M540,574 L540.5,582" fill="none" stroke="#000" stroke-width="1.9" stroke-linejoin="round" stroke-linecap="round" />
<path d="M498.4,587.2 C499.0,586.6 500.8,584.2 501.8,583.8 C502.8,583.3 501.8,583.7 504.5,584.5 C507.2,585.3 512.0,587.8 518.1,588.6 C524.2,589.4 533.1,589.5 541.2,589.3 C549.4,589.1 562.0,587.3 567.0,587.2 C572.0,587.1 569.7,588.3 571.1,588.6 C572.5,588.9 574.8,588.9 575.5,589.0" fill="none" stroke="#000" stroke-width="1.9" stroke-linejoin="round" stroke-linecap="round" />
<path d="M504.5,588.6 C507.2,589.0 514.7,590.7 520.8,591.3 C526.9,591.9 534.4,592.3 541.2,592.0 C548.0,591.7 558.2,589.8 561.6,589.3" fill="none" stroke="#000" stroke-width="1.7" stroke-linejoin="round" stroke-linecap="round" />
<path d="M505.8,593.4 C508.3,594.1 514.9,596.6 520.8,597.4 C526.7,598.2 534.0,598.4 541.2,598.1 C548.5,597.8 560.4,595.9 564.3,595.4" fill="none" stroke="#000" stroke-width="1.9" stroke-linejoin="round" stroke-linecap="round" />
<path d="M490.9,599.5 C493.6,600.0 502.2,601.6 507.2,602.2 C512.2,602.8 515.1,602.9 520.8,602.9 C526.5,602.9 533.3,603.7 541.2,602.2 C549.1,600.7 562.7,596.3 568.4,594.0 C574.1,591.7 574.1,589.5 575.2,588.6" fill="none" stroke="#000" stroke-width="1.8" stroke-linejoin="round" stroke-linecap="round" />
<path d="M492.2,607.6 C494.7,608.2 500.2,610.3 507.2,611.0 C514.2,611.7 525.1,612.3 534.4,611.7 C543.7,611.1 558.2,608.3 563.0,607.6" fill="none" stroke="#000" stroke-width="2.1" stroke-linejoin="round" stroke-linecap="round" />
<polyline points="499.0,587.9 497.7,591.3 490.9,595.4 488.2,602.2 487.5,625.0" fill="none" stroke="#000" stroke-width="1.8" stroke-linejoin="round" />
<ellipse cx="0" cy="0" rx="2.2" ry="2.8" transform="translate(500.4,589) rotate(0)" fill="none" stroke="#000" stroke-width="1.5" />
<rect x="563.5" y="596.5" width="3.5" height="4" fill="#000"/>
<polyline points="575.5,589.0 575.5,600.0 575.7,752.2" fill="none" stroke="#000" stroke-width="2" stroke-linejoin="round" />
<polyline points="573.5,598.0 574.5,620.0" fill="none" stroke="#000" stroke-width="1.5" stroke-linejoin="round" />
<polyline points="487.5,608.0 484.5,690.0 483.2,743.0" fill="none" stroke="#000" stroke-width="2" stroke-linejoin="round" />
<polyline points="491.0,609.0 487.5,690.0 485.8,742.0" fill="none" stroke="#000" stroke-width="1.5" stroke-linejoin="round" />
<path d="M488.5,650.1 C492.1,650.8 500.7,653.2 510.0,654.0 C519.3,654.8 538.4,654.9 544.1,655.1" fill="none" stroke="#000" stroke-width="2" stroke-linejoin="round" stroke-linecap="round" />
<path d="M485.5,691.6 C490.7,692.2 506.8,694.9 516.6,695.4 C526.5,695.9 539.9,694.8 544.6,694.7" fill="none" stroke="#000" stroke-width="2" stroke-linejoin="round" stroke-linecap="round" />
<polygon points="495.3,656.8 501.5,656.3 502.0,666.0 495.5,666.5" fill="none" stroke="#000" stroke-width="1.6" stroke-linejoin="round" />
<polyline points="545.0,609.0 546.2,736.6" fill="none" stroke="#000" stroke-width="2" stroke-linejoin="round" />
<polyline points="547.8,618.0 548.5,736.6 563.3,734.3 566.4,732.0" fill="none" stroke="#000" stroke-width="1.8" stroke-linejoin="round" />
<polyline points="547.5,618.0 566.0,616.0 566.4,732.0" fill="none" stroke="#000" stroke-width="2" stroke-linejoin="round" />
<polyline points="550.5,620.0 562.5,626.0 563.3,733.0" fill="none" stroke="#000" stroke-width="1.6" stroke-linejoin="round" />
<polyline points="566.0,608.0 566.5,616.0" fill="none" stroke="#000" stroke-width="1.8" stroke-linejoin="round" />
<polygon points="524.3,651.2 543.9,627.0 543.9,651.2" fill="url(#hat)" stroke="none"/>
<polygon points="521.0,692.5 544.2,664.0 544.2,692.5" fill="url(#hat)" stroke="none"/>
<polygon points="518.2,744.4 543.1,711.8 543.1,744.4" fill="url(#hat2)" stroke="none"/>
<path d="M484.1,741.5 C483.6,742.2 481.6,743.8 481.2,745.5 C480.8,747.2 480.8,750.2 481.5,752.0 C482.2,753.8 484.8,754.7 485.5,756.5 C486.2,758.3 482.9,761.2 485.5,763.0 C488.1,764.8 493.2,766.5 501.0,767.5 C508.8,768.5 521.6,769.1 532.0,769.0 C542.4,768.9 556.0,767.9 563.3,766.9 C570.6,765.9 573.4,765.2 575.7,762.8 C578.0,760.3 577.2,756.0 577.2,752.2 C577.2,748.4 576.0,742.0 575.7,740.0" fill="none" stroke="#000" stroke-width="1.9" stroke-linejoin="round" stroke-linecap="round" />
<path d="M484.0,742.9 C488.1,743.7 498.8,746.6 508.9,747.5 C519.0,748.4 535.3,748.8 544.6,748.3 C553.9,747.8 561.4,745.0 564.8,744.4" fill="none" stroke="#000" stroke-width="2.4" stroke-linejoin="round" stroke-linecap="round" />
<path d="M485.5,756.0 C489.4,756.5 499.0,758.8 508.9,759.2 C518.8,759.6 533.5,759.4 544.6,758.4 C555.7,757.4 570.5,753.9 575.7,753.0" fill="none" stroke="#000" stroke-width="2.4" stroke-linejoin="round" stroke-linecap="round" />
<path d="M503.4,768.3 C503.4,770.5 502.2,778.8 503.4,781.7 C504.6,784.6 506.1,784.7 510.4,785.6 C514.7,786.5 521.3,787.3 529.1,787.2 C536.9,787.1 551.4,786.0 557.1,784.8 C562.8,783.6 562.3,783.1 563.3,780.2 C564.3,777.3 563.3,769.4 563.3,767.2" fill="#fff" stroke="#000" stroke-width="1.9" stroke-linejoin="round" stroke-linecap="round" />
<ellipse cx="0" cy="0" rx="2.4" ry="2.2" transform="translate(510.4,772.4) rotate(0)" fill="none" stroke="#000" stroke-width="1.8" />
<ellipse cx="0" cy="0" rx="2.4" ry="2" transform="translate(552.4,770.8) rotate(0)" fill="none" stroke="#000" stroke-width="1.6" />
<g transform="translate(451.5,788.6) rotate(-22)"><path d="M3,-3 L15,-3 Q16,0 15,3 L3,3" fill="#fff" stroke="#000" stroke-width="1.7"/><path d="M6.5,-3 Q8.5,0 6.5,3 M10,-3 Q12,0 10,3 M13.5,-3 Q15,0 13.5,3" fill="none" stroke="#000" stroke-width="1.4"/><ellipse cx="0" cy="0" rx="5" ry="5.8" fill="#fff" stroke="#000" stroke-width="1.9"/><path d="M-2,-1.5 L1.5,1.5" stroke="#000" stroke-width="1"/></g>
<polygon points="588.7,661.2 591.3,657.5 600.7,655.4 608.1,656.5 609.1,659.6 603.9,663.3 592.3,666.4 588.7,664.4" fill="#fff" stroke="#000" stroke-width="2" stroke-linejoin="round" />
<path d="M592.5,663 Q598,658.5 604,659 Q601,662 593,663.5" fill="none" stroke="#000" stroke-width="1.4" stroke-linejoin="round" stroke-linecap="round" />
<path d="M629.0,647.6 C631.1,647.6 639.0,646.6 641.6,647.6 C644.2,648.6 644.4,651.5 644.7,653.9 C645.1,656.3 644.9,660.2 643.7,662.3 C642.5,664.4 639.9,665.9 637.4,666.4 C634.9,666.9 630.8,666.6 629.0,665.4 C627.2,664.2 626.9,662.1 626.9,659.1 C626.9,656.1 628.6,649.5 629.0,647.6" fill="#fff" stroke="#000" stroke-width="2.1" stroke-linejoin="round" stroke-linecap="round" />
<ellipse cx="0" cy="0" rx="6" ry="6.5" transform="translate(634.5,658) rotate(0)" fill="none" stroke="#000" stroke-width="1.8" />
<circle cx="633.7" cy="661" r="3" fill="#fff" stroke="none"/>
<path d="M610.2,650.2 C610.9,649.3 611.6,646.0 614.4,645.0 C617.2,644.0 624.1,643.6 626.9,643.9 C629.7,644.1 630.8,644.5 631.1,646.5 C631.5,648.5 630.4,653.7 629.0,656.0 C627.6,658.3 625.1,659.4 622.7,660.2 C620.3,661.0 616.4,661.2 614.4,660.7 C612.4,660.2 611.4,658.8 610.7,657.0 C610.0,655.2 610.3,651.3 610.2,650.2" fill="#fff" stroke="#000" stroke-width="2.1" stroke-linejoin="round" stroke-linecap="round" />
<path d="M615.5,647.5 Q614,653 616.5,659.5 M619.5,646.5 Q618,653 620.5,659.8 M623.5,645.5 Q622,652 624.5,659" fill="none" stroke="#000" stroke-width="1.7" stroke-linejoin="round" stroke-linecap="round" />
<path d="M619.6,668.5 C620.3,667.3 621.9,662.4 623.8,661.2 C625.7,660.0 629.4,659.8 631.1,661.2 C632.9,662.6 633.8,665.9 634.3,669.6 C634.8,673.3 635.7,680.8 634.3,683.2 C632.9,685.7 627.5,685.3 625.9,684.3 C624.3,683.2 625.8,677.8 624.8,676.9 C623.8,676.0 620.5,680.4 619.6,679.0 C618.7,677.6 619.6,670.2 619.6,668.5" fill="#fff" stroke="#000" stroke-width="2.3" stroke-linejoin="round" stroke-linecap="round" />
<path d="M621.5,666 Q620.5,672 622,678" fill="none" stroke="#000" stroke-width="1.6" stroke-linejoin="round" stroke-linecap="round" />
<path d="M627.8,675 L627.8,680.5 Q630.5,682 633,680.5 L633,675" fill="none" stroke="#000" stroke-width="1.5" stroke-linejoin="round" stroke-linecap="round" />
<polygon points="615.4,686.4 616.4,685.3 634.3,685.3 634.3,694.7 641.6,698.9 641.6,717.8 637.4,719.9 616.4,716.2 615.4,714.7" fill="#fff" stroke="#000" stroke-width="2" stroke-linejoin="round" />
<polyline points="619.0,688.0 619.0,700.0 621.5,704.0 626.0,704.0" fill="none" stroke="#000" stroke-width="1.7" stroke-linejoin="round" />
<polyline points="626.0,703.0 633.0,700.0 641.6,700.0" fill="none" stroke="#000" stroke-width="1.6" stroke-linejoin="round" />
<polyline points="636.4,702.1 636.4,718.9" fill="none" stroke="#000" stroke-width="2.2" stroke-linejoin="round" />
<g font-family="Liberation Sans, sans-serif" font-size="20" fill="#000" stroke="#000" stroke-width="0.6">
<text text-anchor="middle" transform="translate(485.30,45.0) scale(1.1,1)">8</text>
<text text-anchor="middle" transform="translate(497.50,45.0) scale(1.1,1)">0</text>
<text text-anchor="middle" transform="translate(509.70,45.0) scale(1.1,1)">2</text>
<text text-anchor="middle" transform="translate(521.90,45.0) scale(1.1,1)">6</text>
<text text-anchor="middle" transform="translate(534.10,45.0) scale(1.1,1)">0</text>
<text text-anchor="middle" transform="translate(368.60,113.0) scale(1.1,1)">8</text>
<text text-anchor="middle" transform="translate(380.80,113.0) scale(1.1,1)">0</text>
<rect x="391.30" y="98.8" width="2.2" height="14.2" fill="#000" stroke="none"/>
<path d="M392.40,99.4 L389.40,102.4" stroke="#000" stroke-width="1.9" fill="none"/>
<text text-anchor="middle" transform="translate(405.20,113.0) scale(1.1,1)">6</text>
<text text-anchor="middle" transform="translate(417.40,113.0) scale(1.1,1)">8</text>
<text text-anchor="middle" transform="translate(522.00,95.9) scale(1.1,1)">8</text>
<text text-anchor="middle" transform="translate(534.20,95.9) scale(1.1,1)">0</text>
<text text-anchor="middle" transform="translate(546.40,95.9) scale(1.1,1)">2</text>
<rect x="556.90" y="81.7" width="2.2" height="14.2" fill="#000" stroke="none"/>
<path d="M558.00,82.3 L555.00,85.3" stroke="#000" stroke-width="1.9" fill="none"/>
<text text-anchor="middle" transform="translate(570.80,95.9) scale(1.1,1)">7</text>
<text text-anchor="middle" transform="translate(601.00,95.9) scale(1.1,1)">8</text>
<text text-anchor="middle" transform="translate(613.20,95.9) scale(1.1,1)">0</text>
<rect x="623.70" y="81.7" width="2.2" height="14.2" fill="#000" stroke="none"/>
<path d="M624.80,82.3 L621.80,85.3" stroke="#000" stroke-width="1.9" fill="none"/>
<text text-anchor="middle" transform="translate(637.60,95.9) scale(1.1,1)">6</text>
<text text-anchor="middle" transform="translate(649.80,95.9) scale(1.1,1)">6</text>
<text text-anchor="middle" transform="translate(481.90,120.4) scale(1.1,1)">8</text>
<text text-anchor="middle" transform="translate(494.10,120.4) scale(1.1,1)">0</text>
<rect x="504.60" y="106.2" width="2.2" height="14.2" fill="#000" stroke="none"/>
<path d="M505.70,106.8 L502.70,109.8" stroke="#000" stroke-width="1.9" fill="none"/>
<text text-anchor="middle" transform="translate(518.50,120.4) scale(1.1,1)">8</text>
<text text-anchor="middle" transform="translate(530.70,120.4) scale(1.1,1)">9</text>
<text text-anchor="middle" transform="translate(562.60,120.4) scale(1.1,1)">8</text>
<text text-anchor="middle" transform="translate(574.80,120.4) scale(1.1,1)">0</text>
<text text-anchor="middle" transform="translate(587.00,120.4) scale(1.1,1)">2</text>
<text text-anchor="middle" transform="translate(599.20,120.4) scale(1.1,1)">8</text>
<text text-anchor="middle" transform="translate(611.40,120.4) scale(1.1,1)">0</text>
<text text-anchor="middle" transform="translate(138.40,445.3) scale(1.1,1)">8</text>
<text text-anchor="middle" transform="translate(150.60,445.3) scale(1.1,1)">0</text>
<text text-anchor="middle" transform="translate(162.80,445.3) scale(1.1,1)">2</text>
<text text-anchor="middle" transform="translate(175.00,445.3) scale(1.1,1)">9</text>
<text text-anchor="middle" transform="translate(187.20,445.3) scale(1.1,1)">0</text>
<text transform="translate(193.8,445.3) scale(0.95,1)">L</text>
<text text-anchor="middle" transform="translate(138.40,469.0) scale(1.1,1)">8</text>
<text text-anchor="middle" transform="translate(150.60,469.0) scale(1.1,1)">0</text>
<text text-anchor="middle" transform="translate(162.80,469.0) scale(1.1,1)">2</text>
<text text-anchor="middle" transform="translate(175.00,469.0) scale(1.1,1)">9</text>
<text text-anchor="middle" transform="translate(187.20,469.0) scale(1.1,1)">0</text>
<text transform="translate(193.5,469.0) scale(0.86,1)">R</text>
<text text-anchor="middle" transform="translate(97.60,493.8) scale(1.1,1)">8</text>
<text text-anchor="middle" transform="translate(109.80,493.8) scale(1.1,1)">0</text>
<text text-anchor="middle" transform="translate(122.00,493.8) scale(1.1,1)">9</text>
<text text-anchor="middle" transform="translate(134.20,493.8) scale(1.1,1)">4</text>
<text text-anchor="middle" transform="translate(146.40,493.8) scale(1.1,1)">5</text>
<text text-anchor="middle" transform="translate(184.70,493.8) scale(1.1,1)">8</text>
<text text-anchor="middle" transform="translate(196.90,493.8) scale(1.1,1)">0</text>
<text text-anchor="middle" transform="translate(209.10,493.8) scale(1.1,1)">2</text>
<text text-anchor="middle" transform="translate(221.30,493.8) scale(1.1,1)">2</text>
<text text-anchor="middle" transform="translate(233.50,493.8) scale(1.1,1)">4</text>
<text text-anchor="middle" transform="translate(227.40,442.8) scale(1.1,1)">8</text>
<text text-anchor="middle" transform="translate(239.60,442.8) scale(1.1,1)">0</text>
<text text-anchor="middle" transform="translate(251.80,442.8) scale(1.1,1)">2</text>
<text text-anchor="middle" transform="translate(264.00,442.8) scale(1.1,1)">9</text>
<text text-anchor="middle" transform="translate(276.20,442.8) scale(1.1,1)">9</text>
<text text-anchor="middle" transform="translate(308.00,442.9) scale(1.1,1)">8</text>
<text text-anchor="middle" transform="translate(320.20,442.9) scale(1.1,1)">0</text>
<text text-anchor="middle" transform="translate(332.40,442.9) scale(1.1,1)">9</text>
<text text-anchor="middle" transform="translate(344.60,442.9) scale(1.1,1)">4</text>
<text text-anchor="middle" transform="translate(356.80,442.9) scale(1.1,1)">2</text>
<text text-anchor="middle" transform="translate(196.60,545.7) scale(1.1,1)">8</text>
<text text-anchor="middle" transform="translate(208.80,545.7) scale(1.1,1)">0</text>
<text text-anchor="middle" transform="translate(221.00,545.7) scale(1.1,1)">2</text>
<text text-anchor="middle" transform="translate(233.20,545.7) scale(1.1,1)">3</text>
<text text-anchor="middle" transform="translate(245.40,545.7) scale(1.1,1)">7</text>
<text transform="translate(251.4,545.7) scale(0.95,1)">L</text>
<text text-anchor="middle" transform="translate(196.60,569.7) scale(1.1,1)">8</text>
<text text-anchor="middle" transform="translate(208.80,569.7) scale(1.1,1)">0</text>
<text text-anchor="middle" transform="translate(221.00,569.7) scale(1.1,1)">2</text>
<text text-anchor="middle" transform="translate(233.20,569.7) scale(1.1,1)">3</text>
<text text-anchor="middle" transform="translate(245.40,569.7) scale(1.1,1)">7</text>
<text transform="translate(251.6,569.7) scale(0.86,1)">R</text>
<text text-anchor="middle" transform="translate(137.40,724.3) scale(1.1,1)">8</text>
<text text-anchor="middle" transform="translate(149.60,724.3) scale(1.1,1)">0</text>
<text text-anchor="middle" transform="translate(161.80,724.3) scale(1.1,1)">2</text>
<text text-anchor="middle" transform="translate(174.00,724.3) scale(1.1,1)">9</text>
<text text-anchor="middle" transform="translate(186.20,724.3) scale(1.1,1)">0</text>
<text transform="translate(192.8,724.3) scale(0.95,1)">L</text>
<text text-anchor="middle" transform="translate(137.40,748.0) scale(1.1,1)">8</text>
<text text-anchor="middle" transform="translate(149.60,748.0) scale(1.1,1)">0</text>
<text text-anchor="middle" transform="translate(161.80,748.0) scale(1.1,1)">2</text>
<text text-anchor="middle" transform="translate(174.00,748.0) scale(1.1,1)">9</text>
<text text-anchor="middle" transform="translate(186.20,748.0) scale(1.1,1)">0</text>
<text transform="translate(192.5,748.0) scale(0.86,1)">R</text>
<text text-anchor="middle" transform="translate(96.60,772.8) scale(1.1,1)">8</text>
<text text-anchor="middle" transform="translate(108.80,772.8) scale(1.1,1)">0</text>
<text text-anchor="middle" transform="translate(121.00,772.8) scale(1.1,1)">9</text>
<text text-anchor="middle" transform="translate(133.20,772.8) scale(1.1,1)">4</text>
<text text-anchor="middle" transform="translate(145.40,772.8) scale(1.1,1)">5</text>
<text text-anchor="middle" transform="translate(183.70,772.8) scale(1.1,1)">8</text>
<text text-anchor="middle" transform="translate(195.90,772.8) scale(1.1,1)">0</text>
<text text-anchor="middle" transform="translate(208.10,772.8) scale(1.1,1)">2</text>
<text text-anchor="middle" transform="translate(220.30,772.8) scale(1.1,1)">2</text>
<text text-anchor="middle" transform="translate(232.50,772.8) scale(1.1,1)">4</text>
<text text-anchor="middle" transform="translate(226.40,721.8) scale(1.1,1)">8</text>
<text text-anchor="middle" transform="translate(238.60,721.8) scale(1.1,1)">0</text>
<text text-anchor="middle" transform="translate(250.80,721.8) scale(1.1,1)">2</text>
<text text-anchor="middle" transform="translate(263.00,721.8) scale(1.1,1)">9</text>
<text text-anchor="middle" transform="translate(275.20,721.8) scale(1.1,1)">9</text>
<text text-anchor="middle" transform="translate(307.00,721.9) scale(1.1,1)">8</text>
<text text-anchor="middle" transform="translate(319.20,721.9) scale(1.1,1)">0</text>
<text text-anchor="middle" transform="translate(331.40,721.9) scale(1.1,1)">9</text>
<text text-anchor="middle" transform="translate(343.60,721.9) scale(1.1,1)">3</text>
<text text-anchor="middle" transform="translate(355.80,721.9) scale(1.1,1)">8</text>
<text text-anchor="middle" transform="translate(195.60,824.7) scale(1.1,1)">8</text>
<text text-anchor="middle" transform="translate(207.80,824.7) scale(1.1,1)">0</text>
<text text-anchor="middle" transform="translate(220.00,824.7) scale(1.1,1)">2</text>
<text text-anchor="middle" transform="translate(232.20,824.7) scale(1.1,1)">3</text>
<text text-anchor="middle" transform="translate(244.40,824.7) scale(1.1,1)">7</text>
<text transform="translate(250.4,824.7) scale(0.95,1)">L</text>
<text text-anchor="middle" transform="translate(195.60,848.7) scale(1.1,1)">8</text>
<text text-anchor="middle" transform="translate(207.80,848.7) scale(1.1,1)">0</text>
<text text-anchor="middle" transform="translate(220.00,848.7) scale(1.1,1)">2</text>
<text text-anchor="middle" transform="translate(232.20,848.7) scale(1.1,1)">3</text>
<text text-anchor="middle" transform="translate(244.40,848.7) scale(1.1,1)">7</text>
<text transform="translate(250.6,848.7) scale(0.86,1)">R</text>
<text text-anchor="middle" transform="translate(526.90,433.2) scale(1.1,1)">8</text>
<text text-anchor="middle" transform="translate(539.10,433.2) scale(1.1,1)">0</text>
<text text-anchor="middle" transform="translate(551.30,433.2) scale(1.1,1)">5</text>
<text text-anchor="middle" transform="translate(563.50,433.2) scale(1.1,1)">2</text>
<text text-anchor="middle" transform="translate(575.70,433.2) scale(1.1,1)">8</text>
<text transform="translate(581.7,433.2) scale(0.95,1)">L</text>
<text text-anchor="middle" transform="translate(526.90,457.0) scale(1.1,1)">8</text>
<text text-anchor="middle" transform="translate(539.10,457.0) scale(1.1,1)">0</text>
<text text-anchor="middle" transform="translate(551.30,457.0) scale(1.1,1)">5</text>
<text text-anchor="middle" transform="translate(563.50,457.0) scale(1.1,1)">2</text>
<text text-anchor="middle" transform="translate(575.70,457.0) scale(1.1,1)">8</text>
<text transform="translate(580.8,457.0) scale(0.86,1)">R</text>
<text text-anchor="middle" transform="translate(511.70,507.9) scale(1.1,1)">8</text>
<text text-anchor="middle" transform="translate(523.90,507.9) scale(1.1,1)">0</text>
<text text-anchor="middle" transform="translate(536.10,507.9) scale(1.1,1)">8</text>
<text text-anchor="middle" transform="translate(548.30,507.9) scale(1.1,1)">9</text>
<rect x="558.80" y="493.7" width="2.2" height="14.2" fill="#000" stroke="none"/>
<path d="M559.90,494.3 L556.90,497.3" stroke="#000" stroke-width="1.9" fill="none"/>
<text text-anchor="middle" transform="translate(472.70,532.8) scale(1.1,1)">8</text>
<text text-anchor="middle" transform="translate(484.90,532.8) scale(1.1,1)">0</text>
<text text-anchor="middle" transform="translate(497.10,532.8) scale(1.1,1)">8</text>
<text text-anchor="middle" transform="translate(509.30,532.8) scale(1.1,1)">8</text>
<text text-anchor="middle" transform="translate(521.50,532.8) scale(1.1,1)">7</text>
<text text-anchor="middle" transform="translate(426.10,557.4) scale(1.1,1)">8</text>
<text text-anchor="middle" transform="translate(438.30,557.4) scale(1.1,1)">0</text>
<text text-anchor="middle" transform="translate(450.50,557.4) scale(1.1,1)">8</text>
<text text-anchor="middle" transform="translate(462.70,557.4) scale(1.1,1)">8</text>
<text text-anchor="middle" transform="translate(474.90,557.4) scale(1.1,1)">8</text>
<text transform="translate(480.3,557.4) scale(0.9,1)">B</text>
<text text-anchor="middle" transform="translate(546.30,533.4) scale(1.1,1)">8</text>
<text text-anchor="middle" transform="translate(558.50,533.4) scale(1.1,1)">0</text>
<text text-anchor="middle" transform="translate(570.70,533.4) scale(1.1,1)">5</text>
<text text-anchor="middle" transform="translate(582.90,533.4) scale(1.1,1)">4</text>
<text text-anchor="middle" transform="translate(595.10,533.4) scale(1.1,1)">4</text>
<text transform="translate(602.3,533.4) scale(0.95,1)">L</text>
<text text-anchor="middle" transform="translate(546.30,557.6) scale(1.1,1)">8</text>
<text text-anchor="middle" transform="translate(558.50,557.6) scale(1.1,1)">0</text>
<text text-anchor="middle" transform="translate(570.70,557.6) scale(1.1,1)">5</text>
<text text-anchor="middle" transform="translate(582.90,557.6) scale(1.1,1)">4</text>
<text text-anchor="middle" transform="translate(595.10,557.6) scale(1.1,1)">4</text>
<text transform="translate(601.8,557.6) scale(0.86,1)">R</text>
<text text-anchor="middle" transform="translate(632.30,557.4) scale(1.1,1)">8</text>
<text text-anchor="middle" transform="translate(644.50,557.4) scale(1.1,1)">0</text>
<text text-anchor="middle" transform="translate(656.70,557.4) scale(1.1,1)">8</text>
<text text-anchor="middle" transform="translate(668.90,557.4) scale(1.1,1)">9</text>
<text text-anchor="middle" transform="translate(681.10,557.4) scale(1.1,1)">2</text>
<text text-anchor="middle" transform="translate(592.40,581.4) scale(1.1,1)">8</text>
<text text-anchor="middle" transform="translate(604.60,581.4) scale(1.1,1)">0</text>
<text text-anchor="middle" transform="translate(616.80,581.4) scale(1.1,1)">8</text>
<text text-anchor="middle" transform="translate(629.00,581.4) scale(1.1,1)">9</text>
<text text-anchor="middle" transform="translate(641.20,581.4) scale(1.1,1)">2</text>
<text text-anchor="middle" transform="translate(392.00,581.8) scale(1.1,1)">8</text>
<text text-anchor="middle" transform="translate(404.20,581.8) scale(1.1,1)">0</text>
<text text-anchor="middle" transform="translate(416.40,581.8) scale(1.1,1)">8</text>
<text text-anchor="middle" transform="translate(428.60,581.8) scale(1.1,1)">8</text>
<text text-anchor="middle" transform="translate(440.80,581.8) scale(1.1,1)">8</text>
</g>
<g font-family="Liberation Sans, sans-serif" font-size="18" fill="#000">
<text text-anchor="middle" font-size="18" stroke="#000" stroke-width="0.2" transform="translate(103.75,322.1) scale(0.820,1)">(</text>
<path d="M116.2,308.6 L115.6,313.3" stroke="#000" stroke-width="2.3"/>
<text text-anchor="middle" font-size="19" stroke="#000" stroke-width="0.55" transform="translate(127.05,322.1) scale(1.100,1)">9</text>
<text text-anchor="middle" font-size="19" stroke="#000" stroke-width="0.55" transform="translate(139.65,322.1) scale(1.100,1)">3</text>
<text text-anchor="middle" font-size="19" stroke="#000" stroke-width="0.55" transform="translate(153.30,322.1) scale(0.983,1)">M</text>
<text text-anchor="middle" font-size="19" stroke="#000" stroke-width="0.55" transform="translate(166.85,322.1) scale(0.762,1)">O</text>
<text text-anchor="middle" font-size="19" stroke="#000" stroke-width="0.55" transform="translate(179.55,322.1) scale(0.900,1)">D</text>
<text text-anchor="middle" font-size="19" stroke="#000" stroke-width="0.55" transform="translate(192.15,322.1) scale(0.790,1)">E</text>
<text text-anchor="middle" font-size="19" stroke="#000" stroke-width="0.55" transform="translate(206.25,322.1) scale(1.112,1)">L</text>
<rect x="216.4" y="314.5" width="10.7" height="1.7" fill="#000" stroke="none"/>
<text text-anchor="middle" font-size="18" stroke="#000" stroke-width="0.2" transform="translate(231.95,322.1) scale(1.025,1)">)</text>
<text text-anchor="middle" font-size="18" stroke="#000" stroke-width="0.2" transform="translate(96.50,602.1) scale(0.920,1)">(</text>
<rect x="102.6" y="594.5" width="8.8" height="1.7" fill="#000" stroke="none"/>
<path d="M121.0,588.6 L120.4,593.3" stroke="#000" stroke-width="2.3"/>
<text text-anchor="middle" font-size="19" stroke="#000" stroke-width="0.55" transform="translate(133.25,602.1) scale(0.989,1)">9</text>
<text text-anchor="middle" font-size="19" stroke="#000" stroke-width="0.55" transform="translate(146.35,602.1) scale(1.100,1)">2</text>
<text text-anchor="middle" font-size="19" stroke="#000" stroke-width="0.55" transform="translate(159.95,602.1) scale(0.992,1)">M</text>
<text text-anchor="middle" font-size="19" stroke="#000" stroke-width="0.55" transform="translate(172.55,602.1) scale(0.762,1)">O</text>
<text text-anchor="middle" font-size="19" stroke="#000" stroke-width="0.55" transform="translate(185.70,602.1) scale(0.818,1)">D</text>
<text text-anchor="middle" font-size="19" stroke="#000" stroke-width="0.55" transform="translate(197.80,602.1) scale(0.800,1)">E</text>
<text text-anchor="middle" font-size="19" stroke="#000" stroke-width="0.55" transform="translate(212.90,602.1) scale(1.125,1)">L</text>
<text text-anchor="middle" font-size="18" stroke="#000" stroke-width="0.2" transform="translate(226.50,602.1) scale(1.250,1)">)</text>
<text text-anchor="middle" transform="translate(643.65,842.6) scale(0.92,1)" font-size="12.3" font-weight="bold">3</text>
<text text-anchor="middle" transform="translate(652.45,842.6) scale(0.92,1)" font-size="12.3" font-weight="bold">Q</text>
<text text-anchor="middle" transform="translate(661.35,842.6) scale(0.92,1)" font-size="12.3" font-weight="bold">8</text>
<text text-anchor="middle" transform="translate(669.75,842.6) scale(0.92,1)" font-size="12.3" font-weight="bold">C</text>
<text text-anchor="middle" transform="translate(679.55,842.6) scale(0.92,1)" font-size="12.3" font-weight="bold">M</text>
<text text-anchor="middle" transform="translate(688.95,842.6) scale(0.92,1)" font-size="12.3" font-weight="bold">0</text>
<text text-anchor="middle" transform="translate(697.05,842.6) scale(0.92,1)" font-size="12.3" font-weight="bold">0</text>
</g>
</svg>
</body></html>
